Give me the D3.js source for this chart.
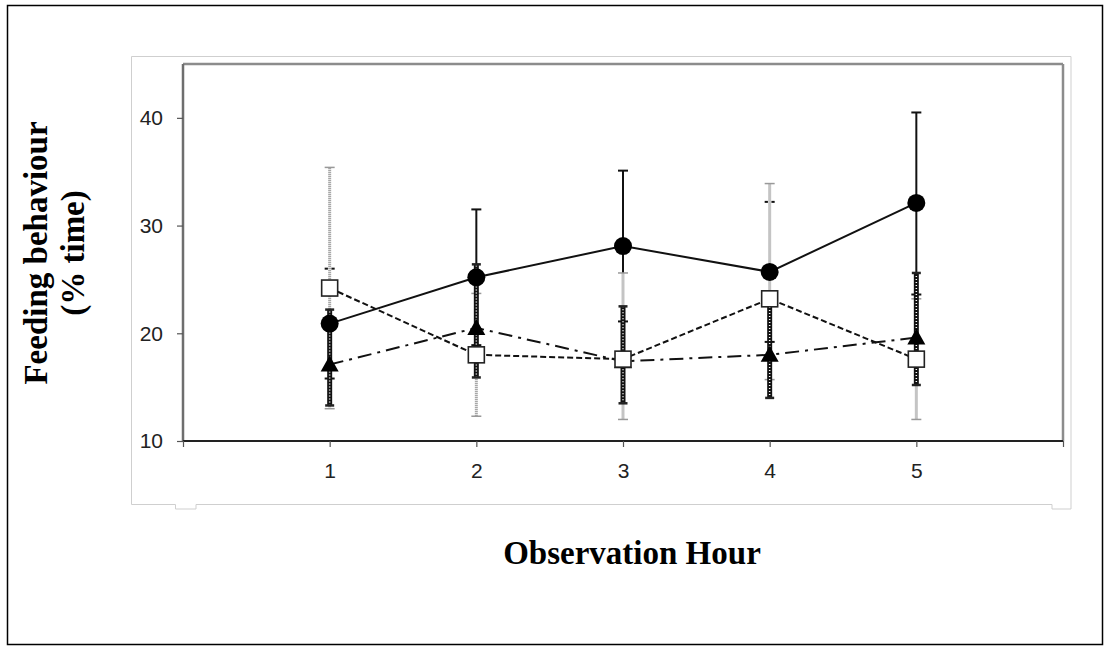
<!DOCTYPE html>
<html>
<head>
<meta charset="utf-8">
<script src="https://cdn.jsdelivr.net/npm/d3@7"></script>
<style>
  body { margin: 0; background: #fff; }
  svg { display: block; }
</style>
</head>
<body>
<div id="chart"></div>
<script>
// data (feeding behaviour, % time)
const hours = [1, 2, 3, 4, 5];
const xTicks = [0, 1, 2, 3, 4, 5, 6];
const yTicks = [10, 20, 30, 40];

const circleMean = [20.9, 25.2, 28.1, 25.7, 32.1];
const circleLo   = [15.8, 18.9, 21.1, 19.2, 23.6];
const circleHi   = [26.0, 31.5, 35.1, 32.2, 40.5];

const squareMean = [24.2, 18.0, 17.6, 23.2, 17.6];
const squareLo   = [13.0, 12.3, 12.0, 15.7, 12.0];
const squareHi   = [35.4, 23.7, 25.6, 33.9, 23.2];

const triMean = [17.1, 20.5, 17.4, 18.0, 19.6];
const triLo   = [13.3, 15.9, 13.5, 14.0, 15.2];
const triHi   = [22.2, 26.4, 22.5, 22.7, 25.6];

const W = 1110, H = 653;
const plot = { left: 183, top: 64, right: 1063, bottom: 441 };

const svg = d3.select("#chart").append("svg")
  .attr("width", W).attr("height", H);

// outer black border
svg.append("rect")
  .attr("x", 7.5).attr("y", 5.5).attr("width", 1095).attr("height", 639)
  .attr("fill", "none").attr("stroke", "#000").attr("stroke-width", 1.5);

// light grey chart-area frame (with the little tabs at the bottom)
svg.append("path")
  .attr("d", "M131.5,56.5 H1071 V509 H1052 V504.5 H196 V509 H175.5 V504.5 H131.5 Z")
  .attr("fill", "none").attr("stroke", "#cfcfcf").attr("stroke-width", 1);

const x = d3.scaleLinear().domain([0, 6]).range([plot.left, plot.right]);
const y = d3.scaleLinear().domain([10, 45]).range([plot.bottom, plot.top]);

// plot frame: grey top / right / left, dark bottom axis
svg.append("line").attr("x1", plot.left).attr("x2", plot.right)
  .attr("y1", plot.top).attr("y2", plot.top)
  .attr("stroke", "#8c8c8c").attr("stroke-width", 2.5);
svg.append("line").attr("x1", plot.right).attr("x2", plot.right)
  .attr("y1", plot.top).attr("y2", plot.bottom)
  .attr("stroke", "#8c8c8c").attr("stroke-width", 2.5);

// y axis
const yAxis = svg.append("g")
  .attr("transform", "translate(" + plot.left + ",0)")
  .call(d3.axisLeft(y).tickValues(yTicks).tickSize(6).tickPadding(14));
yAxis.select(".domain").attr("stroke", "#6e6e6e").attr("stroke-width", 2.5)
  .attr("d", "M0," + plot.top + "V" + plot.bottom);
yAxis.selectAll(".tick line").attr("stroke", "#555").attr("stroke-width", 1.2);
yAxis.selectAll("text")
  .attr("font-family", "'Liberation Sans', Arial, sans-serif")
  .attr("font-size", 21).attr("fill", "#222");

// x axis
const xAxis = svg.append("g")
  .attr("transform", "translate(0," + plot.bottom + ")")
  .call(d3.axisBottom(x).tickValues(xTicks).tickSize(6).tickPadding(16)
    .tickFormat(d => (d >= 1 && d <= 5) ? d : ""));
xAxis.select(".domain").attr("stroke", "#222").attr("stroke-width", 2)
  .attr("d", "M" + plot.left + ",0H" + plot.right);
xAxis.selectAll(".tick line").attr("stroke", "#555").attr("stroke-width", 1.2);
xAxis.selectAll("text")
  .attr("font-family", "'Liberation Sans', Arial, sans-serif")
  .attr("font-size", 21).attr("fill", "#222");

/*
------------------------------
error bars, drawn in the stacking order of the original
------------------------------
*/
function capLines(g, lo, hi, half, color, width) {
  [lo, hi].forEach(arr => {
    g.selectAll(null).data(hours).join("line")
      .attr("x1", (d, i) => x(d) - half).attr("x2", (d, i) => x(d) + half)
      .attr("y1", (d, i) => y(arr[i])).attr("y2", (d, i) => y(arr[i]))
      .attr("stroke", color).attr("stroke-width", width);
  });
}

// circles: solid black
const gCirc = svg.append("g");
gCirc.selectAll("line.bar").data(hours).join("line").attr("class", "bar")
  .attr("x1", d => x(d)).attr("x2", d => x(d))
  .attr("y1", (d, i) => y(circleLo[i])).attr("y2", (d, i) => y(circleHi[i]))
  .attr("stroke", "#111").attr("stroke-width", 2);
capLines(gCirc, circleLo, circleHi, 5, "#111", 2);

// squares: light grey hatched
const gSq = svg.append("g");
gSq.selectAll("line.under").data(hours).join("line").attr("class", "under")
  .attr("x1", d => x(d)).attr("x2", d => x(d))
  .attr("y1", (d, i) => y(squareLo[i])).attr("y2", (d, i) => y(squareHi[i]))
  .attr("stroke", "#fff").attr("stroke-width", 3.5);
gSq.selectAll("line.bar").data(hours).join("line").attr("class", "bar")
  .attr("x1", d => x(d)).attr("x2", d => x(d))
  .attr("y1", (d, i) => y(squareLo[i])).attr("y2", (d, i) => y(squareHi[i]))
  .attr("stroke", "#8a8a8a").attr("stroke-width", 3).attr("stroke-dasharray", "1,1");
capLines(gSq, squareLo, squareHi, 5, "#999", 1.5);

// triangles: thick black hatched
const gTri = svg.append("g");
gTri.selectAll("line.bar").data(hours).join("line").attr("class", "bar")
  .attr("x1", d => x(d)).attr("x2", d => x(d))
  .attr("y1", (d, i) => y(triLo[i])).attr("y2", (d, i) => y(triHi[i]))
  .attr("stroke", "#111").attr("stroke-width", 5);
gTri.selectAll("line.dots").data(hours).join("line").attr("class", "dots")
  .attr("x1", d => x(d)).attr("x2", d => x(d))
  .attr("y1", (d, i) => y(triLo[i])).attr("y2", (d, i) => y(triHi[i]))
  .attr("stroke", "#fff").attr("stroke-width", 1.5).attr("stroke-dasharray", "1,2");
capLines(gTri, triLo, triHi, 4.5, "#222", 2.5);

/*
------------------------------
series lines
------------------------------
*/
const line = d3.line().x(d => x(d[0])).y(d => y(d[1]));

svg.append("path")
  .datum(hours.map((h, i) => [h, triMean[i]]))
  .attr("d", line).attr("fill", "none")
  .attr("stroke", "#111").attr("stroke-width", 2)
  .attr("stroke-dasharray", "14,6,3,6");

svg.append("path")
  .datum(hours.map((h, i) => [h, squareMean[i]]))
  .attr("d", line).attr("fill", "none")
  .attr("stroke", "#111").attr("stroke-width", 2)
  .attr("stroke-dasharray", "6,3");

svg.append("path")
  .datum(hours.map((h, i) => [h, circleMean[i]]))
  .attr("d", line).attr("fill", "none")
  .attr("stroke", "#111").attr("stroke-width", 2);

/*
------------------------------
markers
------------------------------
*/
svg.append("g").selectAll("path").data(hours).join("path")
  .attr("transform", (d, i) => "translate(" + x(d) + "," + y(triMean[i]) + ")")
  .attr("d", "M0,-9 L9,7 L-9,7 Z")
  .attr("fill", "#000");

svg.append("g").selectAll("rect").data(hours).join("rect")
  .attr("x", d => x(d) - 8).attr("y", (d, i) => y(squareMean[i]) - 8)
  .attr("width", 16).attr("height", 16)
  .attr("fill", "#fff").attr("stroke", "#222").attr("stroke-width", 1.6);

svg.append("g").selectAll("circle").data(hours).join("circle")
  .attr("cx", d => x(d)).attr("cy", (d, i) => y(circleMean[i]))
  .attr("r", 9).attr("fill", "#000");

/*
------------------------------
axis titles
------------------------------
*/
svg.append("text")
  .attr("x", 632).attr("y", 564)
  .attr("text-anchor", "middle")
  .attr("font-family", "'Liberation Serif', 'Times New Roman', serif")
  .attr("font-weight", "bold").attr("font-size", 33)
  .text("Observation Hour");

const yTitle = svg.append("g")
  .attr("transform", "translate(0,253) rotate(-90)")
  .attr("font-family", "'Liberation Serif', 'Times New Roman', serif")
  .attr("font-weight", "bold").attr("font-size", 33)
  .attr("text-anchor", "middle");
yTitle.append("text").attr("x", 0).attr("y", 47).text("Feeding behaviour");
yTitle.append("text").attr("x", 0).attr("y", 84).text("(% time)");
</script>
</body>
</html>
